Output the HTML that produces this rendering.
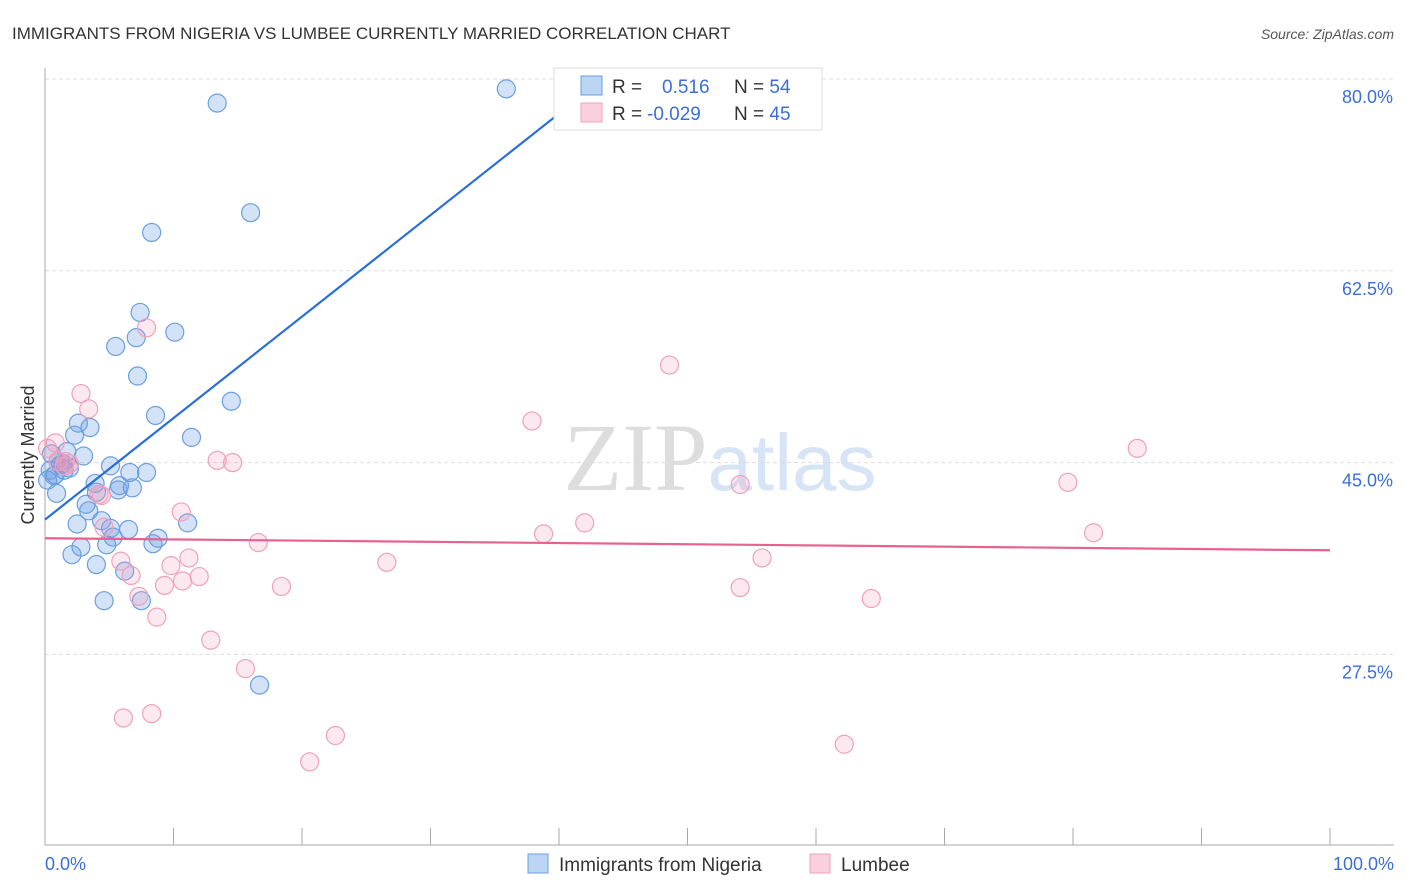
<!DOCTYPE html>
<html><head><meta charset="utf-8"><style>
body{margin:0;background:#fff;font-family:"Liberation Sans",sans-serif}
svg{display:block}
</style></head><body>
<svg id="chart" width="1406" height="892" viewBox="0 0 1406 892" xmlns="http://www.w3.org/2000/svg">
<text x="12" y="39" font-size="17" fill="#333" font-family="Liberation Sans">IMMIGRANTS FROM NIGERIA VS LUMBEE CURRENTLY MARRIED CORRELATION CHART</text>
<text x="1394" y="39" font-size="14" fill="#555" font-style="italic" text-anchor="end">Source: ZipAtlas.com</text>
<text x="720" y="490" font-size="96" text-anchor="middle"><tspan fill="#ddd" font-family="Liberation Serif">ZIP</tspan><tspan fill="#d6e4f5" font-size="80">atlas</tspan></text>
<g id="grid"></g>
<line x1="45" y1="68" x2="45" y2="845" stroke="#aaa"/>
<line x1="45" y1="845" x2="1394" y2="845" stroke="#aaa"/>
<g id="xticks"></g>
<text transform="translate(34,455) rotate(-90)" font-size="18" fill="#333" text-anchor="middle">Currently Married</text>
<text x="45" y="870" font-size="18" fill="#3a6fd8">0.0%</text>
<text x="1394" y="870" font-size="18" fill="#3a6fd8" text-anchor="end">100.0%</text>
<g id="pts"></g>
<g id="lines"></g>
<g>
<rect x="554" y="68" width="268" height="62" fill="#fff" stroke="#ddd"/>
<rect x="581" y="76" width="21" height="19" fill="#bcd5f5" stroke="#6a9fe0"/>
<rect x="581" y="103" width="21" height="19" fill="#fbd0de" stroke="#f0a0bb"/>
<text x="612" y="93" font-size="19" fill="#333">R = <tspan fill="#3a6fd8" x="662">0.516</tspan><tspan fill="#333" x="734">N = </tspan><tspan fill="#3a6fd8">54</tspan></text>
<text x="612" y="120" font-size="19" fill="#333">R = <tspan fill="#3a6fd8" x="647">-0.029</tspan><tspan fill="#333" x="734">N = </tspan><tspan fill="#3a6fd8">45</tspan></text>
</g>
<g><rect x="528" y="854" width="20" height="19" fill="#bcd5f5" stroke="#6a9fe0"/><text x="559" y="871" font-size="19" fill="#333">Immigrants from Nigeria</text></g>
<g><rect x="810" y="854" width="20" height="19" fill="#fbd0de" stroke="#f0a0bb"/><text x="841" y="871" font-size="19" fill="#333">Lumbee</text></g>
</svg>
<script>
const yTicks=[80,62.5,45,27.5];
const yTickLabels=["80.0%","62.5%","45.0%","27.5%"];
const xTicks=[0,10,20,30,40,50,60,70,80,90,100];
const blueX=[13.4,35.9,16.0,8.3,7.4,10.1,5.5,7.1,7.2,8.6,14.5,2.3,3.5,2.6,11.4,3.0,0.5,1.7,1.4,5.1,7.9,6.6,0.8,1.2,0.9,0.7,3.9,5.8,6.8,5.7,4.0,3.2,3.4,2.5,4.4,5.1,6.5,11.1,5.3,8.8,8.4,2.8,4.8,2.1,4.0,6.2,4.6,7.5,16.7,1.5,0.4,1.0,0.2,1.9];
const blueY=[77.8,79.1,67.8,66.0,58.7,56.9,55.6,56.4,52.9,49.3,50.6,47.5,48.2,48.6,47.3,45.6,45.8,46.0,44.9,44.7,44.1,44.1,43.9,44.8,42.2,43.8,43.1,42.9,42.7,42.5,42.3,41.2,40.6,39.4,39.7,39.0,38.9,39.5,38.2,38.1,37.6,37.3,37.5,36.6,35.7,35.1,32.4,32.4,24.7,44.3,44.3,45.1,43.4,44.5];
const pinkX=[0.8,2.8,3.4,7.9,48.6,37.9,85.0,79.6,54.1,13.4,14.6,1.9,1.6,4.2,10.6,42.0,38.8,81.6,16.6,4.6,5.9,11.2,9.8,6.7,26.6,55.8,12.0,10.7,9.3,7.3,18.4,54.1,64.3,8.7,12.9,15.6,6.1,8.3,22.6,20.6,62.2,0.2,4.4,1.0,1.5];
const pinkY=[46.8,51.3,49.9,57.3,53.9,48.8,46.3,43.2,43.0,45.2,45.0,44.9,45.1,42.1,40.5,39.5,38.5,38.6,37.7,39.1,36.0,36.3,35.6,34.7,35.9,36.3,34.6,34.2,33.8,32.8,33.7,33.6,32.6,30.9,28.8,26.2,21.7,22.1,20.1,17.7,19.3,46.3,42.0,45.1,44.7];
const blueTrend=[39.8,0.926];
const pinkTrend=[38.1,-0.011];
const NS="http://www.w3.org/2000/svg";
const X=v=>45+v*12.85, Y=v=>79+(80-v)*10.96;
function mk(t,a,p){const e=document.createElementNS(NS,t);for(const k in a)e.setAttribute(k,a[k]);document.getElementById(p).appendChild(e);return e;}
yTicks.forEach((t,i)=>{
 const l=mk('line',{x1:45,x2:1393,y1:Y(t),y2:Y(t),stroke:'#ddd','stroke-dasharray':'4,3'},'grid');
 
 
 const tx=mk('text',{x:1393,y:Y(t)+24,'font-size':18,fill:'#3a6fd8','text-anchor':'end'},'grid');
 tx.textContent=yTickLabels[i];
 
 
});
xTicks.forEach(t=>{
 const l=mk('line',{x1:X(t),x2:X(t),y1:828,y2:845,stroke:'#aaa'},'xticks');
 
 
});
blueX.forEach((x,i)=>{
 const c=mk('circle',{cx:X(x),cy:Y(blueY[i]),r:9,fill:'rgba(110,160,230,0.3)',stroke:'#6a9fe0','stroke-width':1.2},'pts');
 
 
});
pinkX.forEach((x,i)=>{
 const c=mk('circle',{cx:X(x),cy:Y(pinkY[i]),r:9,fill:'rgba(240,150,180,0.22)',stroke:'#f0a0bb','stroke-width':1.2},'pts');
 
 
});
const bl=mk('line',{x1:X(0),y1:Y(blueTrend[0]),x2:X(40.5),y2:Y(blueTrend[0]+blueTrend[1]*40.5),stroke:'#2a6fd6','stroke-width':2.2},'lines');


const pl=mk('line',{x1:X(0),y1:Y(pinkTrend[0]),x2:X(100),y2:Y(pinkTrend[0]+pinkTrend[1]*100),stroke:'#e8628e','stroke-width':2.2},'lines');


</script>
</body></html>
